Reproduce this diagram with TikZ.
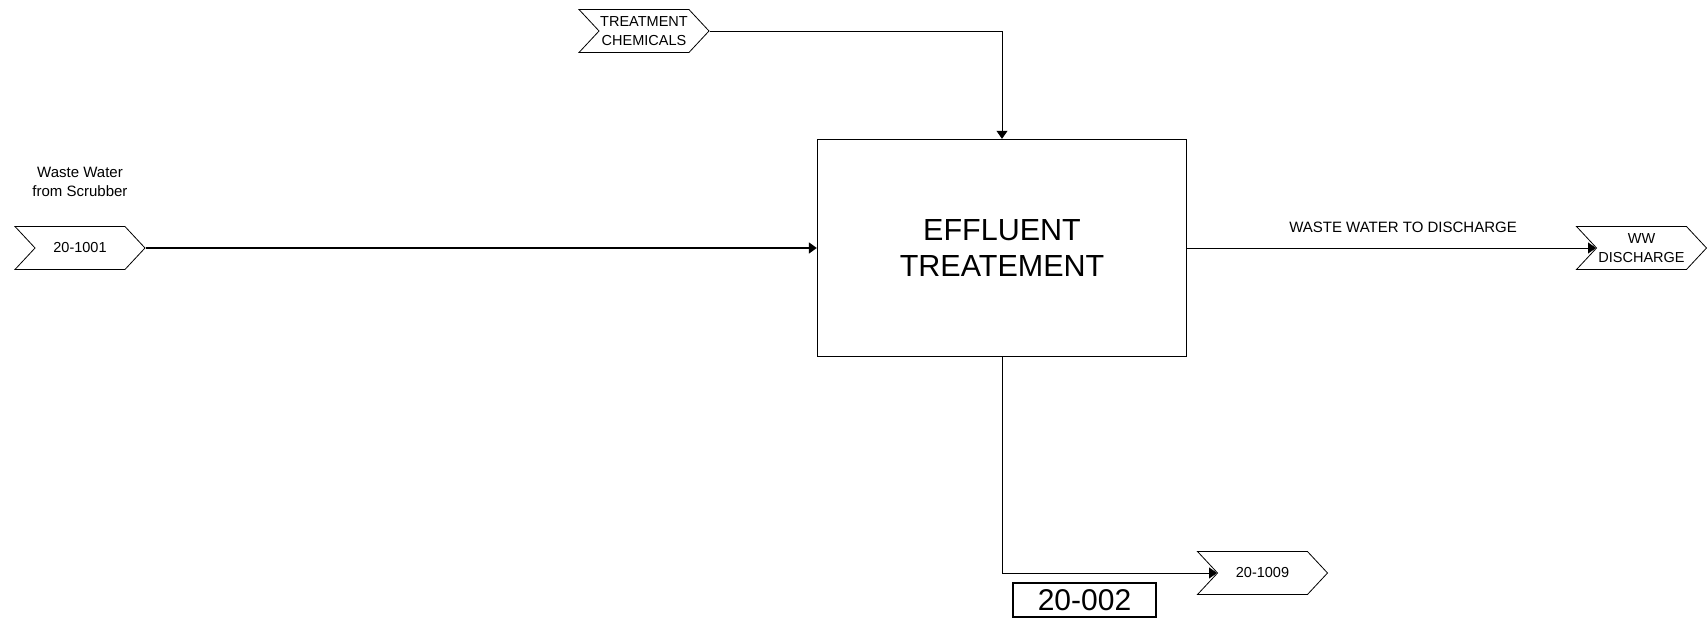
\documentclass[tikz,border=0pt]{standalone}
\usepackage{fontspec}
\setmainfont{Liberation Sans}
\usetikzlibrary{arrows.meta,shapes.symbols}
\tikzstyle{stream}=[draw, line width=0.8pt, signal, signal from=west, signal to=east, signal pointer angle=94, minimum width=130pt, minimum height=43pt, inner sep=0pt, align=center, font=\fontsize{14.5}{19.5}\selectfont]
\tikzstyle{unit}=[draw, line width=1.4pt, minimum width=369pt, minimum height=217pt, align=center, font=\fontsize{30.5}{36}\selectfont]
\tikzstyle{tag}=[draw, line width=1.4pt, minimum width=143pt, minimum height=34pt, inner sep=0pt, font=\fontsize{30}{32}\selectfont]
\tikzstyle{edge}=[draw, line width=0.8pt, -{Triangle[length=8pt,width=11pt]}]
\tikzstyle{note}=[draw=none, align=center, font=\fontsize{15}{19.5}\selectfont]

\begin{document}
\begin{tikzpicture}[x=1pt, y=-1pt]
	\useasboundingbox (0,0) rectangle (1707,620);
	% The unit and its tag
	\node[unit] (et) at (1002,248) {EFFLUENT\\TREATEMENT};
	\node[tag] (tg) at (1084.5,600) {20-002};
	
	% Stream connectors
	\foreach \pos/\name/\txt in {
		{(80,248)/ww1/20-1001}, {(644,31)/chem/{TREATMENT\\CHEMICALS}},
		{(1641.5,248)/wwd/{WW\\DISCHARGE}}, {(1262.5,573)/out/20-1009}}
	\node[stream] (\name) at \pos {\txt};
	
	% Labels
	\node[note] (lbl1) at (80,182) {Waste Water\\from Scrubber};
	\node[note] (lbl2) at (1403,227) {WASTE WATER TO DISCHARGE};
	
	% Connect streams with the unit
	\path[edge, line width=1.8pt] (ww1.east) -- (et.west);
	\path[edge] (chem.east) -| (et.north);
	\path[edge] (et.east) -- (wwd.west);
	\path[edge] (et.south) |- (out.west);
\end{tikzpicture}
\end{document}
